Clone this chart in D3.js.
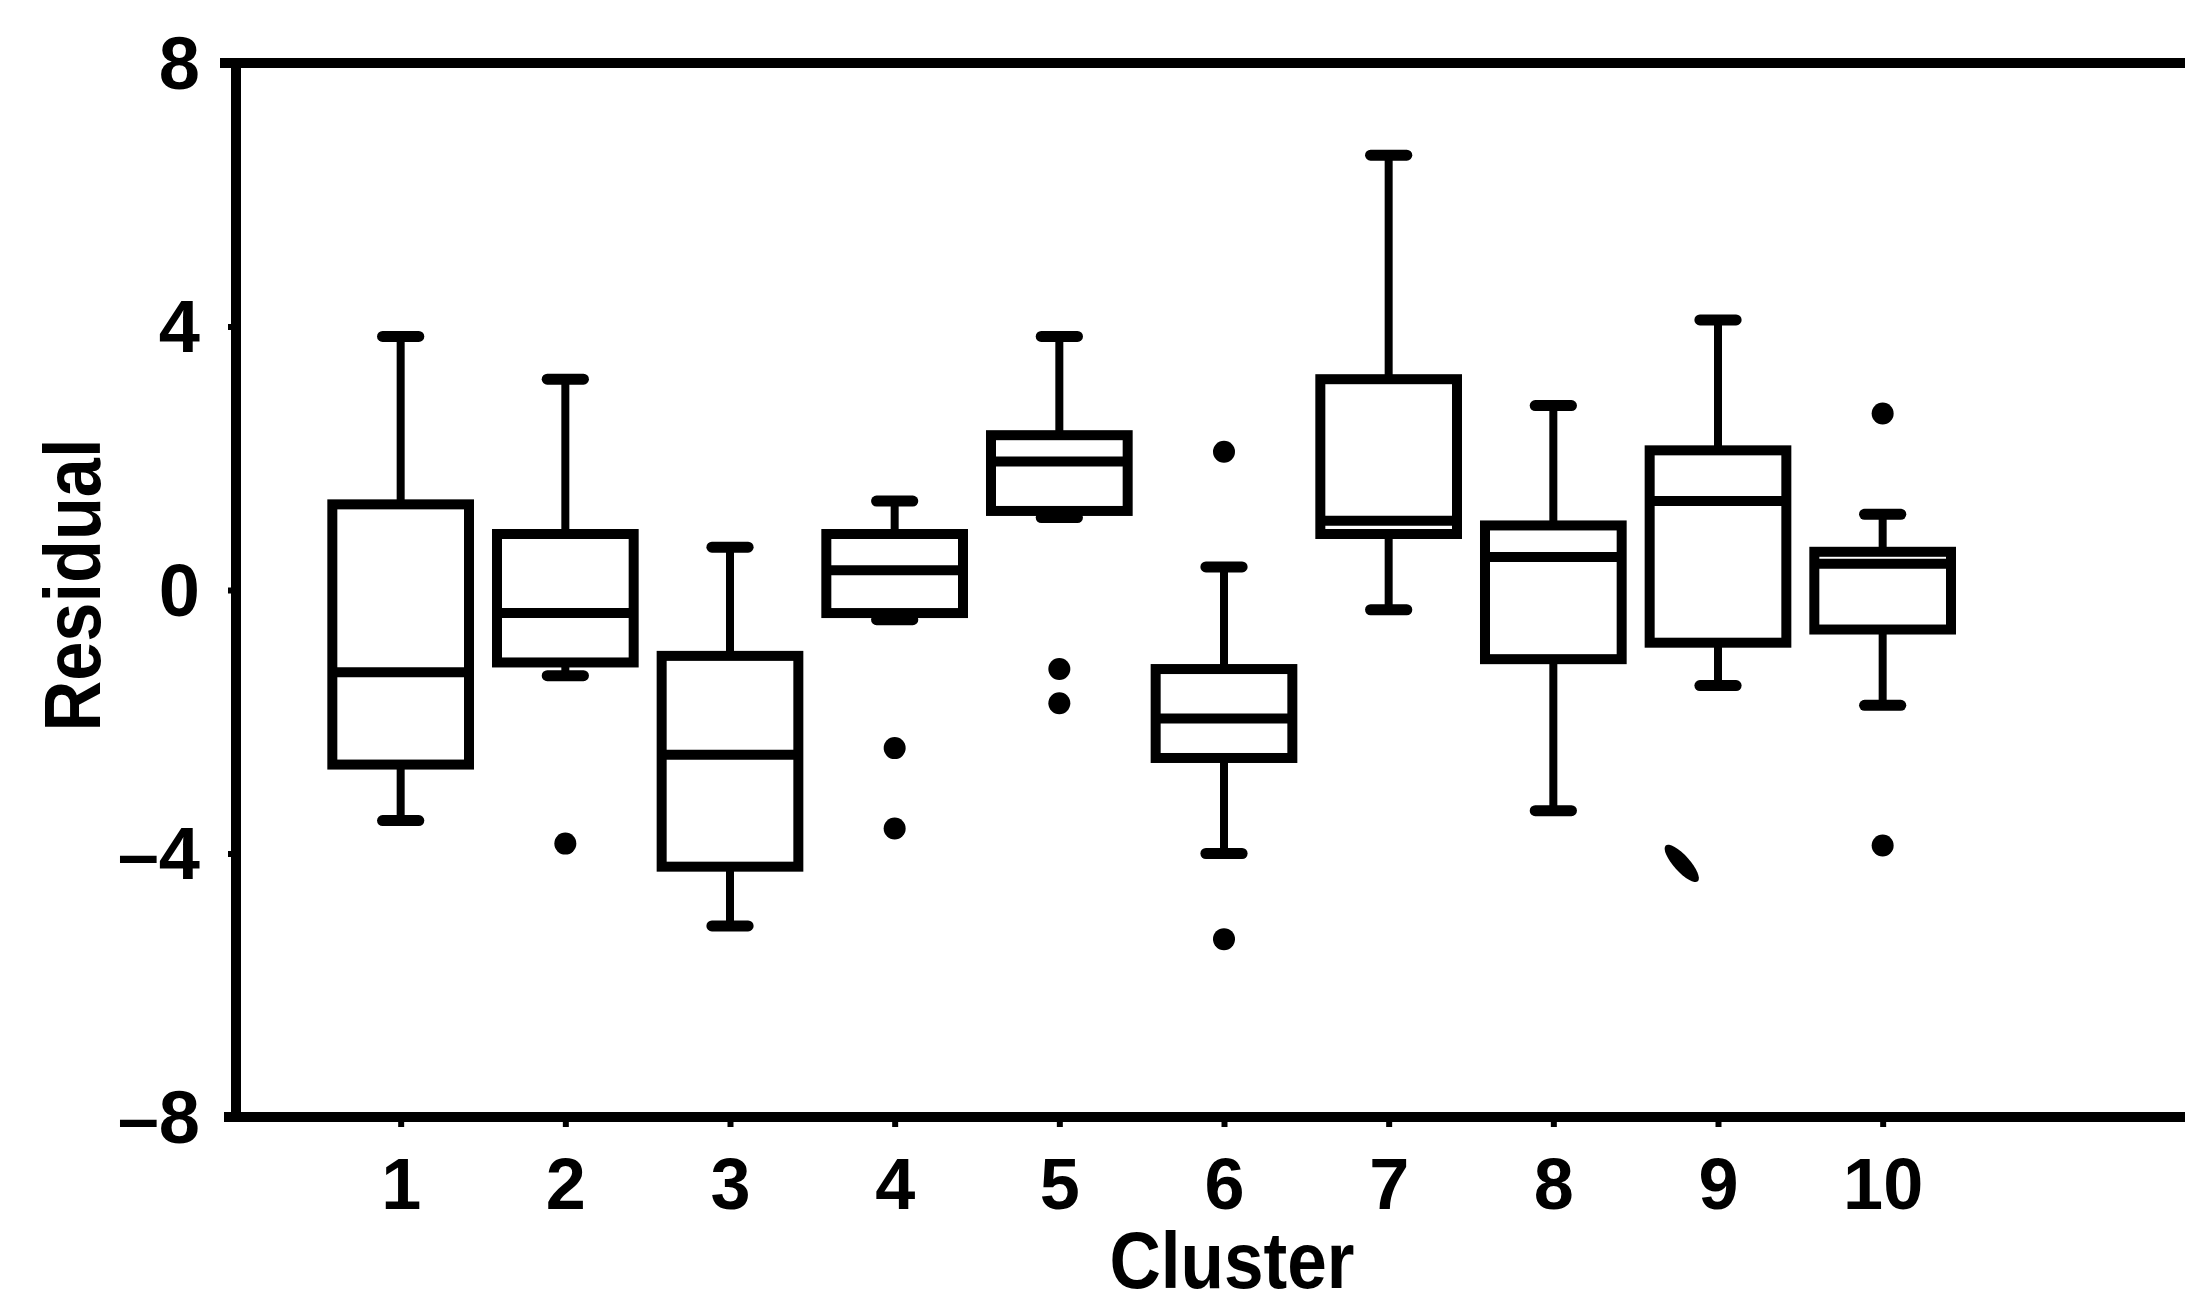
<!DOCTYPE html>
<html>
<head>
<meta charset="utf-8">
<script src="https://cdn.jsdelivr.net/npm/d3@7"></script>
<style>
  html, body { margin: 0; padding: 0; background: #fff; }
  svg { display: block; }
  text { font-family: "Liberation Sans", Arial, Helvetica, sans-serif; font-weight: bold; fill: #000; }
</style>
</head>
<body>
<script>
// Residual distribution per cluster
const clusters   = [1, 2, 3, 4, 5, 6, 7, 8, 9, 10];
const whiskerLow = [-3.5, -1.3, -5.1, -0.45, 1.1, -4.0, -0.3, -3.35, -1.45, -1.75];
const q1         = [-2.65, -1.1, -4.2, -0.35, 1.2, -2.55, 0.85, -1.05, -0.8, -0.6];
const medians    = [-1.25, -0.35, -2.5, 0.3, 1.95, -1.95, 1.05, 0.5, 1.35, 0.4];
const q3         = [1.3, 0.85, -1.0, 0.85, 2.35, -1.2, 3.2, 0.98, 2.12, 0.58];
const whiskerHigh= [3.85, 3.2, 0.65, 1.35, 3.85, 0.35, 6.6, 2.8, 4.1, 1.15];

// Points beyond the whiskers
const outlierCluster = [2, 4, 4, 5, 5, 6, 6, 10, 10];
const outlierValue   = [-3.85, -2.4, -3.62, -1.2, -1.72, 2.1, -5.3, 2.68, -3.88];

// Smeared mark near cluster 9
const smearX     = [8.78];
const smearValue = [-4.15];

const yTicks = [-8, -4, 0, 4, 8];
const yTickLabels = ["\u20138", "\u20134", "0", "4", "8"];

const W = 2185, H = 1307;
const svg = d3.select("body").append("svg").attr("width", W).attr("height", H);

const x = d3.scaleLinear().domain([0, 12]).range([236, 2212]);
const y = d3.scaleLinear().domain([-8, 8]).range([1117, 63]);

const boxHalf = 0.415;
const capHalf = 0.11;

// Frame: top and bottom rules, left axis
const frame = svg.append("g").attr("stroke", "#000").attr("stroke-width", 10).attr("fill", "none");
frame.append("line").attr("x1", x(0) - 16).attr("x2", W + 20).attr("y1", y(8)).attr("y2", y(8));
frame.append("line").attr("x1", x(0) - 12).attr("x2", W + 20).attr("y1", y(-8)).attr("y2", y(-8));
frame.append("line").attr("x1", x(0)).attr("x2", x(0)).attr("y1", y(8)).attr("y2", y(-8));

// Y axis
const yAxis = d3.axisLeft(y).tickValues(yTicks).tickSize(8).tickPadding(28)
  .tickFormat((d, i) => yTickLabels[i]);
const gy = svg.append("g").attr("transform", `translate(${x(0)},0)`).call(yAxis);
gy.select(".domain").remove();
gy.selectAll(".tick line").attr("stroke", "#000").attr("stroke-width", 6);
gy.selectAll(".tick text").style("font-size", "74px").attr("dy", "0.34em");

// X axis
const xAxis = d3.axisBottom(x).tickValues(clusters).tickSize(10).tickPadding(30)
  .tickFormat(d3.format("d"));
const gx = svg.append("g").attr("transform", `translate(0,${y(-8)})`).call(xAxis);
gx.select(".domain").remove();
gx.selectAll(".tick line").attr("stroke", "#000").attr("stroke-width", 6);
gx.selectAll(".tick text").style("font-size", "72px").attr("dy", "0.72em");

// Axis titles
svg.append("text").attr("x", 1232).attr("y", 1288).attr("text-anchor", "middle")
  .style("font-size", "80px").attr("textLength", 245).attr("lengthAdjust", "spacingAndGlyphs")
  .text("Cluster");
svg.append("text").attr("transform", `translate(100,585) rotate(-90)`)
  .attr("text-anchor", "middle").style("font-size", "80px")
  .attr("textLength", 293).attr("lengthAdjust", "spacingAndGlyphs").text("Residual");

// Boxes
const data = clusters.map((c, i) => ({
  c, lo: whiskerLow[i], q1: q1[i], med: medians[i], q3: q3[i], hi: whiskerHigh[i]
}));

const g = svg.append("g").attr("stroke", "#000").attr("fill", "none");
const box = g.selectAll(".box").data(data).join("g").attr("class", "box");

// whiskers
box.append("line").attr("stroke-width", 8)
  .attr("x1", d => x(d.c)).attr("x2", d => x(d.c))
  .attr("y1", d => y(d.q3)).attr("y2", d => y(d.hi));
box.append("line").attr("stroke-width", 8)
  .attr("x1", d => x(d.c)).attr("x2", d => x(d.c))
  .attr("y1", d => y(d.q1)).attr("y2", d => y(d.lo));
// caps
box.append("line").attr("stroke-width", 11).attr("stroke-linecap", "round")
  .attr("x1", d => x(d.c - capHalf)).attr("x2", d => x(d.c + capHalf))
  .attr("y1", d => y(d.hi)).attr("y2", d => y(d.hi));
box.append("line").attr("stroke-width", 11).attr("stroke-linecap", "round")
  .attr("x1", d => x(d.c - capHalf)).attr("x2", d => x(d.c + capHalf))
  .attr("y1", d => y(d.lo)).attr("y2", d => y(d.lo));
// box body
box.append("rect").attr("stroke-width", 10).attr("fill", "#fff")
  .attr("x", d => x(d.c - boxHalf)).attr("width", d => x(d.c + boxHalf) - x(d.c - boxHalf))
  .attr("y", d => y(d.q3)).attr("height", d => y(d.q1) - y(d.q3));
// median
box.append("line").attr("stroke-width", 10)
  .attr("x1", d => x(d.c - boxHalf)).attr("x2", d => x(d.c + boxHalf))
  .attr("y1", d => y(d.med)).attr("y2", d => y(d.med));

// Outliers
svg.append("g").selectAll("circle")
  .data(outlierCluster.map((c, i) => ({ c, v: outlierValue[i] })))
  .join("circle")
  .attr("cx", d => x(d.c)).attr("cy", d => y(d.v)).attr("r", 11).attr("fill", "#000");

svg.append("g").selectAll("ellipse")
  .data(smearX.map((s, i) => ({ s, v: smearValue[i] })))
  .join("ellipse")
  .attr("transform", d => `translate(${x(d.s)},${y(d.v)}) rotate(48)`)
  .attr("rx", 24).attr("ry", 8).attr("fill", "#000");
</script>
</body>
</html>
